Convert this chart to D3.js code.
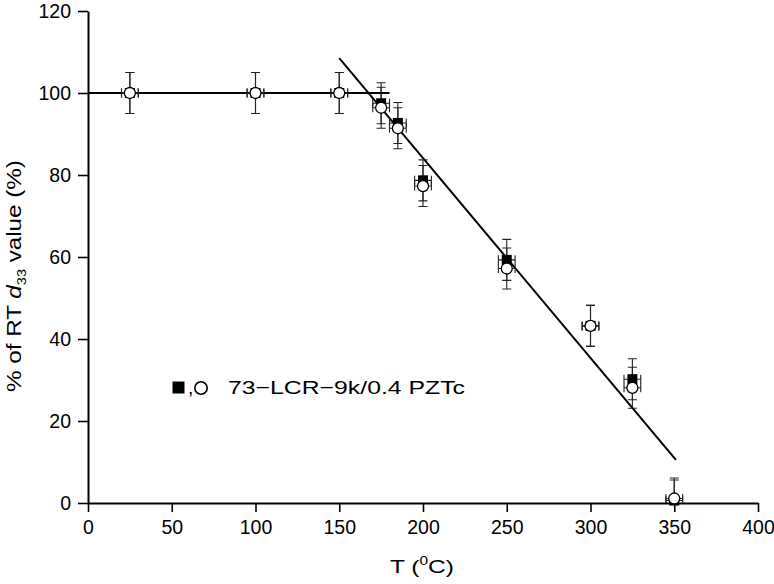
<!DOCTYPE html>
<html>
<head>
<meta charset="utf-8">
<script src="https://cdn.jsdelivr.net/npm/d3@7"></script>
<style>
  body { margin: 0; background: #fff; }
  svg { display: block; font-family: "Liberation Sans", Arial, sans-serif; }
  .axis path, .axis line { stroke: #000; }
</style>
</head>
<body>
<svg width="774" height="584"></svg>
<script>
// temperature (deg C)
var temps = [25, 100, 150, 175, 185, 200, 250, 300, 325, 350];
// filled squares and open circles, % of room temperature d33
var squareVals = [100, 100, 100, 97.5, 92.7, 78.7, 59.3, 43.2, 30.2, 0.6];
var circleVals = [100, 100, 100, 96.4, 91.4, 77.3, 57.2, 43.2, 28.1, 1.1];
var yErr = 5, xErr = 5;
// guide lines
var flatX = [0, 180], flatY = [100, 100];
var slopeX = [150, 351], slopeY = [108.5, 10.5];

var xMajor = d3.range(0, 401, 50), xMinor = d3.range(25, 400, 50);
var yMajor = d3.range(0, 121, 20), yMinor = d3.range(10, 120, 20);

var svg = d3.select("svg");
var margin = {top: 11, right: 16, bottom: 81, left: 88};
var W = +svg.attr("width"), H = +svg.attr("height");

var x = d3.scaleLinear().domain([0, 400]).range([margin.left, W - margin.right]);
var y = d3.scaleLinear().domain([0, 120]).range([H - margin.bottom, margin.top]);

svg.append("clipPath").attr("id", "plot")
  .append("rect")
    .attr("x", margin.left).attr("y", 0)
    .attr("width", W - margin.left).attr("height", y(0));

// axes
var gx = svg.append("g").attr("class", "axis")
    .attr("transform", "translate(0," + y(0) + ")");
gx.call(d3.axisBottom(x).tickValues(xMinor).tickSize(5).tickFormat(""));
gx.call(d3.axisBottom(x).tickValues(xMajor).tickSize(9).tickPadding(8).tickSizeOuter(0));

var gy = svg.append("g").attr("class", "axis")
    .attr("transform", "translate(" + x(0) + ",0)");
gy.call(d3.axisLeft(y).tickValues(yMinor).tickSize(5).tickFormat(""));
gy.call(d3.axisLeft(y).tickValues(yMajor).tickSize(10).tickPadding(7).tickSizeOuter(0));

svg.selectAll(".axis path").attr("stroke-width", 2);
svg.selectAll(".axis line").attr("stroke-width", 1.6);
svg.selectAll(".axis text").attr("font-size", 19.5).attr("fill", "#000")
  .attr("font-family", "Liberation Sans, Arial, sans-serif");

// guide lines
var line = d3.line().x(function(d) { return x(d[0]); }).y(function(d) { return y(d[1]); });
svg.append("path").datum(d3.zip(flatX, flatY))
  .attr("d", line).attr("fill", "none").attr("stroke", "#000").attr("stroke-width", 2);
svg.append("path").datum(d3.zip(slopeX, slopeY))
  .attr("d", line).attr("fill", "none").attr("stroke", "#000").attr("stroke-width", 2);

// error bars
function errorBars(vals) {
  var g = svg.append("g").attr("clip-path", "url(#plot)")
      .attr("stroke", "#222").attr("stroke-width", 1.1).attr("fill", "none");
  var pts = d3.zip(temps, vals);
  var cap = 4.5;
  pts.forEach(function(p) {
    var cx = x(p[0]), cy = y(p[1]);
    var y1 = y(p[1] + yErr), y2 = y(p[1] - yErr);
    var x1 = x(p[0] - xErr), x2 = x(p[0] + xErr);
    g.append("path").attr("d",
      "M" + cx + "," + y1 + "V" + y2 +
      "M" + (cx - cap) + "," + y1 + "H" + (cx + cap) +
      "M" + (cx - cap) + "," + y2 + "H" + (cx + cap) +
      "M" + x1 + "," + cy + "H" + x2 +
      "M" + x1 + "," + (cy - cap) + "V" + (cy + cap) +
      "M" + x2 + "," + (cy - cap) + "V" + (cy + cap));
  });
}
errorBars(squareVals);
errorBars(circleVals);

// markers
svg.append("g").selectAll("rect")
  .data(d3.zip(temps, squareVals)).enter().append("rect")
    .attr("x", function(d) { return x(d[0]) - 5; })
    .attr("y", function(d) { return y(d[1]) - 5; })
    .attr("width", 10).attr("height", 10)
    .attr("fill", "#000");
svg.append("g").selectAll("circle")
  .data(d3.zip(temps, circleVals)).enter().append("circle")
    .attr("cx", function(d) { return x(d[0]); })
    .attr("cy", function(d) { return y(d[1]); })
    .attr("r", 5.5)
    .attr("fill", "#fff").attr("stroke", "#000").attr("stroke-width", 1.3);

// stretch text horizontally to the measured width
function stretch(sel, cx, cy, rot, target) {
  var w = sel.node().getComputedTextLength();
  sel.attr("transform", "translate(" + cx + "," + cy + ") rotate(" + rot + ") scale(" + (target / w) + ",1)");
}

// legend
svg.append("rect").attr("x", 172.5).attr("y", 381.5).attr("width", 12).attr("height", 12).attr("fill", "#000");
svg.append("text").attr("x", 188).attr("y", 394).attr("font-size", 19).text(",");
svg.append("circle").attr("cx", 201).attr("cy", 388).attr("r", 6.2)
  .attr("fill", "#fff").attr("stroke", "#000").attr("stroke-width", 1.6);
var leg = svg.append("text").attr("font-size", 19).text("73\u2212LCR\u22129k/0.4 PZTc");
stretch(leg, 228, 393.5, 0, 237);

// x title
var xt = svg.append("text").attr("font-size", 19).attr("text-anchor", "middle");
xt.append("tspan").text("T (");
xt.append("tspan").attr("font-size", 12).attr("dy", -8).text("0");
xt.append("tspan").attr("dy", 8).text("C)");
stretch(xt, 422, 573, 0, 64);

// y title
var yt = svg.append("text").attr("font-size", 20).attr("text-anchor", "middle");
yt.append("tspan").text("% of RT ");
yt.append("tspan").attr("font-style", "italic").text("d");
yt.append("tspan").attr("font-size", 12).attr("dy", 5).text("33");
yt.append("tspan").attr("dy", -5).text(" value (%)");
stretch(yt, 21, 276, -90, 232);
</script>
</body>
</html>
